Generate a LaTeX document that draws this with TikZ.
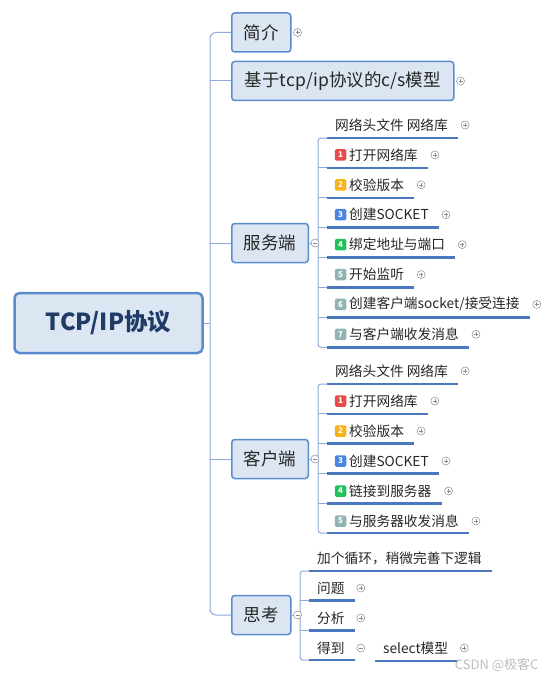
\documentclass[tikz,border=0pt]{standalone}
\usepackage{fontspec}
\setmainfont{Noto Sans CJK SC}
\usepackage{tikz}
\usetikzlibrary{positioning}

\definecolor{boxfill}{HTML}{DCE6F2}
\definecolor{boxline}{HTML}{5B8BCF}
\definecolor{linkc}{HTML}{8FAADC}
\definecolor{ulinec}{HTML}{4A78BE}
\definecolor{rootc}{HTML}{1F3B66}
\definecolor{txt}{HTML}{262626}
\definecolor{iconc}{HTML}{8C8C8C}
\definecolor{bred}{HTML}{E84A4A}
\definecolor{borange}{HTML}{F7B21C}
\definecolor{bblue}{HTML}{4A86E0}
\definecolor{bgreen}{HTML}{22C15A}
\definecolor{bgray}{HTML}{93B3B3}

\begin{document}
\begin{tikzpicture}[x=1pt,y=-1pt,
  topic/.style={draw=boxline, fill=boxfill, line width=1.5pt, rounded corners=3pt, anchor=west,
    minimum height=39pt, inner xsep=12pt, text=txt, font=\fontsize{17.5}{20}\selectfont},
  leaf/.style={anchor=west, inner sep=0pt, text=txt, font=\fontsize{13.7}{16}\selectfont},
  link/.style={draw=linkc, line width=1pt},
  uline/.style={draw=ulinec, line width=2.6pt},
  badge/.style={fill=#1, rounded corners=1.5pt, minimum size=11.5pt, inner sep=0pt, text=white,
    font=\fontsize{8}{8}\selectfont\bfseries},
  knob/.style={circle, draw=iconc, fill=white, line width=.5pt, minimum size=8pt, inner sep=0pt},
  plusmark/.style={knob, path picture={\draw[iconc,line width=.6pt]
    ([xshift=-2pt]path picture bounding box.center) -- ([xshift=2pt]path picture bounding box.center)
    ([yshift=-2pt]path picture bounding box.center) -- ([yshift=2pt]path picture bounding box.center);}},
  minusmark/.style={knob, path picture={\draw[iconc,line width=.6pt]
    ([xshift=-2pt]path picture bounding box.center) -- ([xshift=2pt]path picture bounding box.center);}}]
  \useasboundingbox[fill=white] (0,0) rectangle (554,674);

  \node[draw=boxline, fill=boxfill, line width=2.5pt, rounded corners=5pt, minimum width=188pt,
    minimum height=60pt, text=rootc, font=\fontsize{23.5}{28}\selectfont\bfseries] (root) at (108.5,323) {TCP/IP协议};

  \node[topic] (intro) at (231,32.5) {简介};
  \node[topic, minimum width=222pt] (model) at (231,81) {基于tcp/ip协议的c/s模型};
  \node[topic] (server) at (231,243) {服务端};
  \node[topic] (client) at (231,459) {客户端};
  \node[topic] (think) at (231,615) {思考};

  \coordinate (trunk) at (210,323);
  \draw[link] (root.east) -- (trunk);
  \draw[link, rounded corners=6pt] (intro.west) -| (trunk) |- (think.west);
  \foreach \b in {model,server,client} \draw[link] (trunk |- \b.west) -- (\b.west);
  \node[plusmark] at ([xshift=6pt]intro.east) {};
  \node[plusmark] at ([xshift=6pt]model.east) {};

  % server
  \coordinate (shub) at (318,243);
  \node[leaf] (s0) at (335,125) {网络头文件 网络库};
  \foreach \c/\t [count=\i] in {bred/打开网络库, borange/校验版本, bblue/创建SOCKET, bgreen/绑定地址与端口,
      bgray/开始监听, bgray/{创建客户端socket/接受连接}, bgray/与客户端收发消息} {
    \node[badge=\c] (sb\i) at (340.5,{125+29.9*\i}) {\i};
    \node[leaf, right=2.5pt of sb\i] (s\i) {\t};
  }
  \foreach \i in {0,...,7} {
    \coordinate (su\i) at (327,{138+29.9*\i});
    \draw[uline] (su\i) -- (su\i -| s\i.east) -- ++(10,0);
    \node[plusmark] at ([xshift=17pt]s\i.east) {};
  }
  \draw[link, rounded corners=3pt] (su0) -| (shub) |- (su7);
  \foreach \i in {1,...,6} \draw[link] (su\i) -- (shub |- su\i);
  \draw[link] (server.east) -- (shub);
  \node[minusmark] at ([xshift=6pt]server.east) {};

  % client
  \coordinate (chub) at (318,459);
  \node[leaf] (c0) at (335,371) {网络头文件 网络库};
  \foreach \c/\t [count=\i] in {bred/打开网络库, borange/校验版本, bblue/创建SOCKET, bgreen/链接到服务器,
      bgray/与服务器收发消息} {
    \node[badge=\c] (cb\i) at (340.5,{371+30*\i}) {\i};
    \node[leaf, right=2.5pt of cb\i] (c\i) {\t};
  }
  \foreach \i in {0,...,5} {
    \coordinate (cu\i) at (327,{384+29.8*\i});
    \draw[uline] (cu\i) -- (cu\i -| c\i.east) -- ++(10,0);
    \node[plusmark] at ([xshift=17pt]c\i.east) {};
  }
  \draw[link, rounded corners=3pt] (cu0) -| (chub) |- (cu5);
  \foreach \i in {1,...,4} \draw[link] (cu\i) -- (chub |- cu\i);
  \draw[link] (client.east) -- (chub);
  \node[minusmark] at ([xshift=6pt]client.east) {};

  % think
  \coordinate (thub) at (300,615);
  \node[leaf] (t0) at (317,558) {加个循环，稍微完善下逻辑};
  \node[leaf] (t1) at (317,588) {问题};
  \node[leaf] (t2) at (317,618) {分析};
  \node[leaf] (t3) at (317,648) {得到};
  \foreach \i in {0,...,3} {
    \coordinate (tu\i) at (309,{571+29.7*\i});
    \draw[uline] (tu\i) -- (tu\i -| t\i.east) -- ++(10,0);
  }
  \draw[link, rounded corners=3pt] (tu0) -| (thub) |- (tu3);
  \foreach \i in {1,2} \draw[link] (tu\i) -- (thub |- tu\i);
  \draw[link] (think.east) -- (thub);
  \node[minusmark] at ([xshift=6pt]think.east) {};
  \node[plusmark] at ([xshift=16pt]t1.east) {};
  \node[plusmark] at ([xshift=16pt]t2.east) {};
  \node[minusmark] at ([xshift=16pt]t3.east) {};

  \node[leaf] (sel) at (383,648) {select模型};
  \coordinate (selu) at (375,661);
  \draw[uline] (selu) -- (selu -| sel.east) -- ++(10,0);
  \node[plusmark] at ([xshift=16pt]sel.east) {};

  \node[anchor=east, text=gray!60, opacity=.85, font=\fontsize{13}{15}\selectfont] (mark) at (542,665) {CSDN @极客C};
\end{tikzpicture}
\end{document}
